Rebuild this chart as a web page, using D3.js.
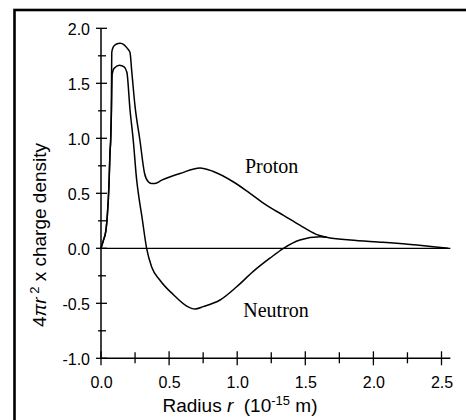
<!DOCTYPE html>
<html>
<head>
<meta charset="utf-8">
<script src="https://cdn.jsdelivr.net/npm/d3@7"></script>
<style>
  body { margin: 0; background: #fff; }
  svg { display: block; }
</style>
</head>
<body>
<svg id="chart" width="466" height="420"></svg>
<script>
// radius in 10^-15 m, values are 4*pi*r^2 x charge density
var protonR = [0, 0.017, 0.037, 0.046, 0.059, 0.066, 0.071, 0.076, 0.079, 0.09, 0.11, 0.14, 0.17, 0.195, 0.213, 0.225, 0.25, 0.286, 0.32, 0.347, 0.37, 0.396, 0.446, 0.58, 0.727, 0.82, 0.97, 1.094, 1.217, 1.34, 1.46, 1.58, 1.657, 1.83, 2.07, 2.32, 2.44, 2.55];
var protonV = [0, 0.07, 0.17, 0.29, 0.59, 0.87, 0.98, 1.30, 1.78, 1.83, 1.855, 1.865, 1.85, 1.815, 1.78, 1.62, 1.29, 0.98, 0.68, 0.605, 0.59, 0.59, 0.62, 0.68, 0.73, 0.70, 0.605, 0.50, 0.39, 0.30, 0.21, 0.127, 0.10, 0.075, 0.055, 0.03, 0.015, 0];

var neutronR = [0, 0.017, 0.037, 0.046, 0.059, 0.066, 0.071, 0.077, 0.082, 0.095, 0.135, 0.17, 0.19, 0.213, 0.237, 0.262, 0.28, 0.299, 0.335, 0.372, 0.433, 0.53, 0.629, 0.69, 0.751, 0.874, 0.996, 1.118, 1.24, 1.34, 1.46, 1.61, 1.657];
var neutronV = [0, 0.07, 0.17, 0.29, 0.59, 0.87, 0.98, 1.25, 1.58, 1.635, 1.665, 1.65, 1.60, 1.26, 0.98, 0.62, 0.45, 0.30, 0, -0.17, -0.29, -0.42, -0.525, -0.552, -0.53, -0.47, -0.35, -0.21, -0.09, 0, 0.075, 0.105, 0.10];

var xTicks = [0, 0.5, 1.0, 1.5, 2.0, 2.5];
var xMinor = [0.25, 0.75, 1.25, 1.75, 2.25];
var yTicks = [-1.0, -0.5, 0.0, 0.5, 1.0, 1.5, 2.0];
var yMinor = [-0.75, -0.25, 0.25, 0.75, 1.25, 1.75];

var svg = d3.select('#chart');

// frame round the figure (cut off on right and bottom)
svg.append('rect')
  .attr('x', 14.5).attr('y', 10)
  .attr('width', 470).attr('height', 430)
  .attr('fill', 'none').attr('stroke', '#000').attr('stroke-width', 2.6);

var x = d3.scaleLinear().domain([0, 2.5]).range([101, 441.5]);
var y = d3.scaleLinear().domain([-1, 2]).range([358.3, 28.3]);

var g = svg.append('g');

// axis lines
g.append('line')
  .attr('x1', x(0)).attr('x2', x(2.565))
  .attr('y1', y(-1)).attr('y2', y(-1))
  .attr('stroke', '#000').attr('stroke-width', 1.5);
g.append('line')
  .attr('x1', x(0)).attr('x2', x(0))
  .attr('y1', y(-1)).attr('y2', y(2))
  .attr('stroke', '#000').attr('stroke-width', 1.5);
// zero line
g.append('line')
  .attr('x1', x(0)).attr('x2', x(2.565))
  .attr('y1', y(0)).attr('y2', y(0))
  .attr('stroke', '#000').attr('stroke-width', 1.2);

// ticks that cross the axes
g.selectAll('.xt').data(xTicks).enter().append('line')
  .attr('x1', d => x(d)).attr('x2', d => x(d))
  .attr('y1', y(-1) - 7).attr('y2', y(-1) + 7)
  .attr('stroke', '#000').attr('stroke-width', 1.3);
g.selectAll('.xm').data(xMinor).enter().append('line')
  .attr('x1', d => x(d)).attr('x2', d => x(d))
  .attr('y1', y(-1) - 6).attr('y2', y(-1) + 5)
  .attr('stroke', '#000').attr('stroke-width', 1.3);
g.selectAll('.yt').data(yTicks).enter().append('line')
  .attr('x1', x(0) - 5).attr('x2', x(0) + 6)
  .attr('y1', d => y(d)).attr('y2', d => y(d))
  .attr('stroke', '#000').attr('stroke-width', 1.3);
g.selectAll('.ym').data(yMinor).enter().append('line')
  .attr('x1', x(0) - 3).attr('x2', x(0) + 5)
  .attr('y1', d => y(d)).attr('y2', d => y(d))
  .attr('stroke', '#000').attr('stroke-width', 1.3);

// tick labels via d3 axes (tick marks hidden), plain hyphen for minus
var fmt = function (d) { return d3.format('.1f')(d).replace('\u2212', '-'); };
var xAxis = d3.axisBottom(x).tickValues(xTicks).tickSize(0).tickPadding(0).tickFormat(fmt);
var yAxis = d3.axisLeft(y).tickValues(yTicks).tickSize(0).tickPadding(0).tickFormat(fmt);

var gx = svg.append('g').attr('transform', 'translate(0,' + (y(-1) + 30) + ')').call(xAxis);
var gy = svg.append('g').attr('transform', 'translate(' + (x(0) - 11) + ',0)').call(yAxis);
[gx, gy].forEach(function (a) {
  a.select('.domain').remove();
  a.selectAll('text')
    .attr('font-family', 'Liberation Sans, Arial, sans-serif')
    .attr('font-size', 16)
    .attr('fill', '#000');
});
gx.selectAll('text').attr('dy', 0);
gy.selectAll('text').attr('dy', '0.36em');

// curves
var line = d3.line()
  .x(d => x(d[0]))
  .y(d => y(d[1]))
  .curve(d3.curveMonotoneX);

svg.append('path')
  .datum(protonR.map((r, i) => [r, protonV[i]]))
  .attr('d', line)
  .attr('fill', 'none').attr('stroke', '#000').attr('stroke-width', 1.5);
svg.append('path')
  .datum(neutronR.map((r, i) => [r, neutronV[i]]))
  .attr('d', line)
  .attr('fill', 'none').attr('stroke', '#000').attr('stroke-width', 1.5);

// curve names
svg.append('text').attr('x', 245).attr('y', 173.3)
  .attr('font-family', 'Liberation Serif, Times New Roman, serif')
  .attr('font-size', 20).text('Proton');
svg.append('text').attr('x', 243.3).attr('y', 316.7)
  .attr('font-family', 'Liberation Serif, Times New Roman, serif')
  .attr('font-size', 20).text('Neutron');

// x axis title
var xt = svg.append('text').attr('x', 240).attr('y', 412)
  .attr('text-anchor', 'middle')
  .attr('font-family', 'Liberation Sans, Arial, sans-serif')
  .attr('font-size', 19);
xt.append('tspan').text('Radius ');
xt.append('tspan').attr('font-style', 'italic').text('r');
xt.append('tspan').text('\u00a0 (10');
xt.append('tspan').attr('font-size', 13).attr('dy', -7).text('-15');
xt.append('tspan').attr('dy', 7).text(' m)');

// y axis title
var yt = svg.append('text')
  .attr('transform', 'translate(46,235) rotate(-90)')
  .attr('text-anchor', 'middle')
  .attr('font-family', 'Liberation Sans, Arial, sans-serif')
  .attr('font-size', 19);
yt.append('tspan').text('4');
yt.append('tspan').attr('font-style', 'italic').text('\u03c0r');
yt.append('tspan').attr('font-size', 13).attr('dy', -7).text(' 2');
yt.append('tspan').attr('dy', 7).text(' x charge density');
</script>
</body>
</html>
